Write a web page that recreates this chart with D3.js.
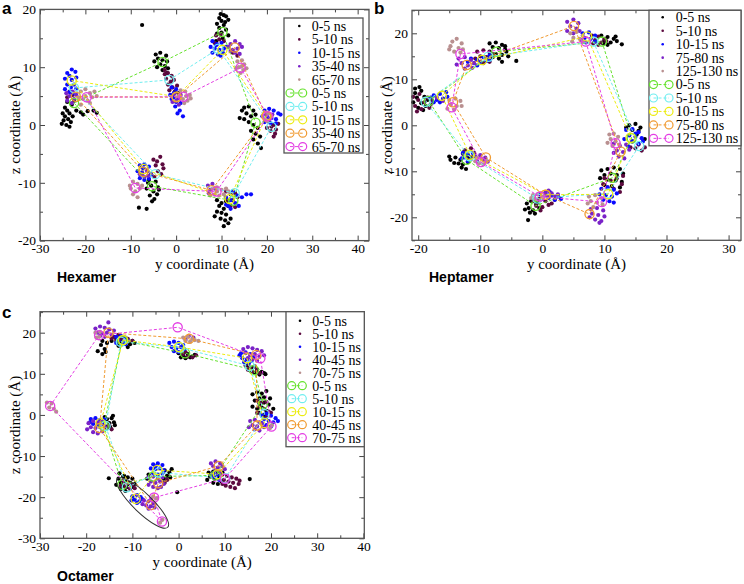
<!DOCTYPE html>
<html>
<head>
<meta charset="utf-8">
<script src="https://cdn.jsdelivr.net/npm/d3@7"></script>
<style>
  body { margin: 0; background: #fff; }
  svg text { font-family: "Liberation Serif", "Times New Roman", serif; }
  svg .tag { font-family: "Liberation Sans", Arial, sans-serif; font-weight: bold; }
</style>
</head>
<body>
<svg id="fig" width="744" height="584"></svg>
<script>
// series names (5 scatter sets + 5 average sets per panel)
const hexLabels = ['0-5 ns', '5-10 ns', '10-15 ns', '35-40 ns', '65-70 ns']
const hepLabels = ['0-5 ns', '5-10 ns', '10-15 ns', '75-80 ns', '125-130 ns']
const octLabels = ['0-5 ns', '5-10 ns', '10-15 ns', '40-45 ns', '70-75 ns']

const dotColors = ['#000000', '#5c0a3f', '#0a0aff', '#7a22c8', '#b99090']
const lineColors = ['#66e22e', '#70eef0', '#ecec10', '#f09a30', '#e43ee4']

// tick labels
const hexYTicks = [-30, -20, -10, 0, 10, 20, 30, 40]
const hexZTicks = [-20, -10, 0, 10, 20]
const hepYTicks = [-20, -10, 0, 10, 20, 30]
const hepZTicks = [-20, -10, 0, 10, 20]
const octYTicks = [-30, -20, -10, 0, 10, 20, 30, 40]
const octZTicks = [-30, -20, -10, 0, 10, 20]

// scatter points "y,z", one string per series
const hexDots = [
  // 0-5 ns
  '-24.5,3 -24,2.5 -25,2 -23.5,2 -24.5,1.5 -23.8,1 -24.8,0.8 -23.2,0.5 -24.2,0 -23.5,-0.3 -25.2,0.2 -22.8,1.5 -23,3.5 -22,2.5 -21,2.2 -20.5,1.8 -19.5,2.4 -18.2,2.5 -17.5,2.1 -24,4 -22.5,4.2 ' +
  '-4.5,12.2 -3.5,12.5 -2.2,12 -4,11.5 -3,11.2 -4.8,11 -2,11 -3.5,10.5 -2.5,10.2 -4.2,10 -1.8,9.8 -3,9.5 -2,9 ' +
  '-6,-9.5 -4.5,-9.8 -5.5,-10.5 -4,-10.8 -6.5,-11 -5,-11.5 -4.2,-12 -5.8,-12.2 -4.8,-12.8 -6.2,-10 -3.8,-11.2 -8.2,-14.3 -6.5,-14.5 -5.3,-13.2 ' +
  '10.5,19 11,18.8 9.5,18.5 10,18 11.5,18.2 9,17.5 10.5,17.3 9.5,16.8 11,16.5 10,16 9,15.8 11.5,15.5 10.3,15 8.8,14.5 10.8,17.8 9.8,19.2 ' +
  '15,3 16,3.2 17,2.5 15.5,2 16.5,1.5 15,1 17.5,1.8 16,0.5 17,0 18,-0.5 16.5,-1 17.5,-1.5 18.5,-2 17,-2.5 18,-3.2 14,1.2 18.7,-4 14.5,2.5 ' +
  '9,-13 10,-13.5 11,-13.2 9.5,-14 10.5,-14.5 11.5,-14 9,-15 10,-15.2 11,-15.5 9.8,-16.2 10.8,-16.5 11.5,-17 10.5,-17.5 8.5,-15.8 12,-16.2 -7.5,17.3',
  // 5-10 ns
  '-2.5,9.5 -1.8,9 -1,8.5 -2.2,8 -1.2,7.5 -0.5,7.8 -1.8,7 -0.8,6.5 0.2,6.8 -1.5,6 -0.3,5.8 0.5,5.5 -2.5,8.8 ' +
  '-23.5,5.8 -22.8,5.2 -24,4.8 ' +
  '-5,-6 -3.5,-5.5 -4.5,-7 -3,-6.8 -4,-8 -5.5,-8.5 -3.3,-8.5 -4.8,-9 -2.8,-7.5 -4.2,-6.3 ' +
  '8.8,15.5 9.5,14.8 8.5,14.2 9.8,15.6 10.5,14.5 12.5,12.5 13.5,12 ' +
  '20.5,0.5 21.5,0 22,-0.8 20.8,-1 21.8,-1.5 22.5,0.2 21,-0.3 20,-0.5 21.5,-2 ' +
  '11,-11.5 12,-12 13,-11.8 11.5,-13 12.5,-13 13.5,-12.5 12,-14 13,-14.2',
  // 10-15 ns
  '-23,9.6 -24,9 -22.2,9.2 -23.5,8.5 -24.5,8 -22,8.2 -23,7.8 -24,7 -22.5,7 -23.2,6.5 -24.5,6.2 -22,6.3 -23.5,5.7 -22.8,5.5 ' +
  '-1,6.5 0,6.2 -0.5,5.5 0.8,5 -1,4.5 0,4 1,3.8 -0.2,3.2 0.8,2.5 1.5,1.5 -0.5,4.8 0.3,2 -1.3,5.2 ' +
  '-8,-7 -7,-6.8 -6,-7.2 -8.5,-8 -7.5,-8.2 -6.3,-8 -5.5,-8.6 -8,-9.2 -7,-9.5 -6,-9.3 -7.3,-7.5 ' +
  '8,14.5 9,14 10,14.2 8.5,13.2 9.5,13 10.5,13.2 8,12.5 9.2,12.2 10.3,12.5 11,13.5 8.8,13.8 9.8,12 7.6,13.5 ' +
  '19.5,2.5 20.5,2.8 21.5,2.5 22.5,2 19,1.5 20,1.5 21,1.2 22,1 23,1.8 19.5,0.5 20.8,0.3 22,0.3 ' +
  '11,-12.5 12,-13 13,-13.5 12,-14.5 11.5,-14 13.5,-12.2 14.5,-12.5 15.5,-12 12.5,-11.5 13.8,-14 11,-13.8 16.5,-12',
  // 35-40 ns
  '-23.5,5 -22.5,4.5 -24,4.2 -23,3.8 -22,5.2 -24.2,5.5 -22.8,5.8 ' +
  '-0.5,5.3 0.5,4.6 0,4.2 1,5.2 -0.8,4 0.6,3.5 ' +
  '-7.5,-8.5 -6.5,-7.8 -7,-9 -8,-8.5 -6.2,-8.8 ' +
  '12,14 13,14.5 14,14 12.5,13 13.5,13.2 14.5,13.5 13,12.5 12,12.8 14,12.3 11.5,13.5 ' +
  '19.8,1.8 20.5,1 21.2,1.8 20.2,0.8 ' +
  '7,-10.5 8,-10.2 7.5,-11.2 8.5,-11 7.2,-11.8',
  // 65-70 ns
  '-21,5.8 -20,6.2 -19,5.5 -20.5,4.5 -19.5,4.2 -18.5,4.8 -21.5,4.8 -18,5.8 -17.5,5 -20,5 -19,3.8 -21,3.5 ' +
  '1,6 2,5.8 3,5.2 1.5,4.5 2.5,4.2 0.5,5 3.2,4.6 1.8,3.8 2.2,5 ' +
  '-9.5,-9.8 -8.5,-10.2 -10,-11 -9,-11.5 -8,-11 -9.5,-12 -8.5,-12.5 -10.2,-10.5 -7.5,-10.5 ' +
  '13.5,11 14.5,11.2 15,10.5 13.8,10 14.8,9.5 13.2,9.8 15.5,9.8 14.2,9 14.5,10.2 ' +
  '19.5,1.2 20.3,2 21,1.5 20,0.7 ' +
  '8,-11 9,-10.8 10,-11.2 11,-11 8.5,-12 9.5,-12.2 10.5,-12 11.5,-11.5 9,-11.5 7.5,-12.2'
]

// averaged subunit positions, in ring order
const hexMeans = [
  '10.2,16.1 -3,10.9 -22.5,3.8 -5.3,-10.6 12.6,-13.1 17.5,0.4',
  '9.3,13.2 -1.5,7.8 -22.5,6.4 -4.6,-8.5 12.9,-11.8 21,-0.3',
  '10.2,13 0.1,4.9 -23,7.7 -7.2,-7.6 11.8,-12.8 19.9,1.6',
  '12.9,13.4 0.1,4.8 -22.1,4.9 -7.2,-8.1 7.8,-11.3 19.9,1.5',
  '14.2,9.9 1.6,4.9 -19.7,4.8 -9,-10.9 8.9,-11.5 20.2,1.5'
]

const hepDots = [
  '-8.5,17.8 -7.5,18 -6.5,17.5 -8,17 -7,16.8 -6,16.5 -8.5,16 -7.5,15.5 -6.5,15.3 -5.8,16 -7,14.5 -8,14.8 -6,17.2 -5.5,15 -6.5,13.8 -4.2,14 ' +
  '-20.5,7 -19.5,7.5 -20.2,6 -19,6.2 -18.5,5.5 -20.8,5 -19.5,4.8 -18.8,4.2 -20,3.8 -19.2,3.3 -20.5,8 -19.8,8.3 ' +
  '-14.8,-7.5 -14,-7 -13.2,-7.5 -13.5,-8.3 -12.8,-8.5 -12,-8 -13,-9.2 -12.3,-9.5 -14.2,-8.2 -11.8,-7.2 -15,-6.8 -12.5,-5.5 ' +
  '-2.5,-17 -1.8,-16.5 -1,-17.2 -2.2,-18 -1.5,-18.5 -0.5,-18 -2.8,-18.3 -0.8,-16.8 -2,-19 -1.2,-19.2 -2.3,-20.6 ' +
  '9.5,19.5 10.5,19.2 11.5,18.8 10,18.5 11,18 12,18.3 10.5,17.5 12.8,17.6 9.8,17.8 11.8,19.3 ' +
  '14,0 15,0.3 15.8,-0.5 14.5,-1 15.5,-1.2 13.5,-0.5 16.5,-3 15.2,-2 ' +
  '9.5,-9.8 10.5,-9.5 11.5,-9.2 12.5,-9.5 10,-10.8 11,-10.5 12,-10.8 13,-10.5 9.3,-11.5 10.5,-11.8 11.8,-12 12.8,-12.3 10,-13 11.2,-13.2 12.5,-13.5',
  '-10.5,16 -9.5,16.3 -8.5,15.8 -10,15 -9,14.8 -8,15.5 -9.5,13.5 -8.5,13.8 -10.8,14.5 ' +
  '-20.8,6.2 -20,5.5 -19,5 -18,4.5 -20.5,4.2 -19.5,3.5 -18.5,6 -17.8,5.5 -19.8,6.8 -18.2,3.8 -20.2,3 ' +
  '-12.5,-5.5 -11.5,-5 -11,-6 -12,-6.5 -12.8,-6.2 -11.3,-6.8 ' +
  '-1.5,-16.5 -0.5,-16 0.5,-16.5 1.5,-17 -1,-17.5 0,-17.8 1,-17.3 2,-16.2 -0.3,-18.5 ' +
  '8,19.5 9,19.3 10,18.8 8.5,18.5 9.5,18 10.3,18.3 9,17.5 8.2,17.8 ' +
  '14.5,-3.5 15.5,-4.2 16.5,-4.8 15,-5 16,-5.5 14.2,-4.8 ' +
  '10,-11.5 11,-12 12,-11.5 12.8,-12.8 10.5,-13.5 11.5,-13.8 12.5,-14.5 13,-11 9.8,-12.8',
  '-11.5,14.5 -10.5,14.2 -9.5,14.8 -8.5,15.2 -11,13.5 -10,13.8 -9,14 -10.5,13 -12,13.8 -8.5,14.2 ' +
  '-17.5,6.5 -16.5,6.8 -15.5,7.2 -17,5.5 -16,5.8 -15.3,6.2 -17.5,5 -16.5,5 -18,6 ' +
  '-12.8,-6 -12,-6.3 -11.2,-6 -12.5,-7 -11.5,-7.3 -12,-7.8 -13,-7.2 ' +
  '-0.5,-15 0.5,-14.8 1.5,-15.2 2.5,-15.5 0,-16 1,-15.8 2,-16.2 3,-16 1.2,-14.5 ' +
  '6.5,20 7.5,20.2 8.5,19.5 6.8,19 7.8,18.8 8.5,18.2 7,18 6.3,18.5 ' +
  '13.5,-1 14.5,-0.8 15.5,-1.5 14,-2.2 15,-2.5 16,-2.8 13.2,-3 14.5,-3.5 15.5,-4 16.2,-3.5 13.8,-4.5 15,-1.8 ' +
  '9.5,-13.8 10.5,-13.5 11.5,-14 9.2,-15 10.2,-15.2 11.2,-15.5 12,-14.8 9.8,-16.2 10.8,-16.5 11.5,-16.8',
  '-13.5,14.5 -12.5,14.8 -11.5,14.2 -13,13.5 -12,13 -11,13.5 -12.5,12.3 -11.3,12.5 -13.8,13.2 ' +
  '-17,6 -16,5.3 ' +
  '-10.8,-6.8 -10,-6.5 -9.2,-7 -10.5,-7.8 -9.5,-7.5 -8.8,-7.9 ' +
  '0.5,-14.6 1.5,-14.8 2,-15.5 0.8,-15.5 2.5,-15 1,-14.2 ' +
  '4,22.5 5,23 5.8,22.2 4.5,21.5 5.5,21 4,20.5 6,20.5 5,20 ' +
  '11.5,-4 12.5,-4.5 13.5,-4.2 12,-5.5 13,-5.8 14,-5.3 12.3,-6.8 13.2,-7.2 11.5,-6 ' +
  '7.8,-18.2 8.8,-18 9.8,-18.5 8,-19.2 9,-19.5 10,-19.8 8.5,-20.5 9.5,-20.8 7.6,-20 9.2,-21.2',
  '-14.5,18.2 -13.8,18.8 -13,17.8 -14.8,17.2 -13.5,16.8 -12.8,16.5 -14.2,16 -13.2,15.8 -15,16.5 ' +
  '-15,5.5 -14,5.8 -13.2,5.3 -14.8,4.5 -13.8,4.2 -15.3,3.6 -14.2,3.4 -13,4.2 ' +
  '-10.5,-7 -9.8,-7.2 -9,-7.8 -10.2,-8.3 -9.5,-8.5 -10.8,-7.8 ' +
  '-1.5,-15.2 -0.8,-15 0,-15.5 -1.2,-16 -0.3,-16.2 -1.8,-15.8 ' +
  '4.5,20 5.5,20.3 6.5,19.5 5,19 6,18.8 4.8,18.2 6.5,18.2 ' +
  '10.8,-2 11.5,-1.8 12.2,-2.5 11,-3 11.8,-3.5 10.5,-3.8 12.4,-4.2 11.3,-4.5 ' +
  '7.5,-15.5 8.5,-15.2 9.5,-15.8 7.8,-16.5 8.8,-16.8 9.7,-17.2 8.2,-17.8 7.3,-17'
]

const hepMeans = [
  '9.6,18.2 14.4,-2.8 11.3,-11.4 -1.1,-17.5 -12.2,-7.5 -18.3,5.3 -7.4,16',
  '8.2,18.2 15.6,-4.5 10.6,-14.8 -0.8,-15.9 -11.8,-6.7 -18.8,5.1 -8.7,14.9',
  '7.2,19.3 14.2,-2.7 10.6,-15 0.5,-15.1 -11.7,-6.4 -16.2,6.4 -9.7,14.2',
  '5.1,21.6 12.6,-5.7 7.6,-19.3 0.5,-15.1 -9.1,-7 -14.4,5 -12.2,13.1',
  '7,18.2 11.8,-3.9 9.6,-16.7 -0.4,-15.5 -9.9,-8 -14.6,3.9 -13.2,15.5'
]

const octDots = [
  '-16.5,18 -15.5,17.5 -16.8,17 -16,16 -15.8,15.3 -16.5,14.8 -14.5,18 -13.5,18.5 -12.5,17.8 -11.5,17.5 -10.5,17.2 -9.5,17.5 -13,16.8 -11,16.5 -10,18 -17.5,15.5 ' +
  '0,15 1,14.5 2,14.8 3,14.2 0.5,14 1.5,13.8 2.5,14 3.5,14.6 ' +
  '15,12 16,11.5 17,11 18,10.5 16.5,10.2 17.5,9.8 18.5,10.2 15.5,10.8 18.8,9.9 ' +
  '16,5 17,5.5 18,5.2 19,5.8 17.5,4 18.5,4.3 16.5,3.5 17.5,2.8 18.5,3 19.5,2.5 16,2 17,1.5 18,1.8 19,1 17.5,0.5 18.5,0 19.8,4 20.5,1.5 ' +
  '6.5,-14 7.5,-13.8 8.5,-14.2 9.5,-14 6.8,-15 7.8,-15.5 8.8,-15.2 9.3,-16.2 7.5,-16.5 8.5,-16.8 6.2,-15.8 15.4,-15.6 ' +
  '-3,-13.5 -2,-14 -1.5,-13.2 -2.5,-14.8 -1.8,-15.2 -3.2,-15.5 -6.5,-14.5 -6.8,-15.5 -0.3,-18.8 ' +
  '-13,-15.5 -12,-15 -11,-15.2 -10,-15.5 -12.5,-16.5 -11.5,-16.2 -10.5,-16.5 -13.5,-17 -12,-17.2 -11,-17.5 -12.5,-18 -11.5,-18.5 -10,-17.5 -9.5,-16.8 -12.8,-14.2 -11.8,-14.8 -15.1,-15.4 ' +
  '-15.5,-1 -14.5,-0.8 -15,-2 -14,-1.8 -15.8,-2.8 -14.8,-3 -13.8,-2.5 -16,-0.5 -14.2,-0.2',
  '-14,19 -13,19.5 -12,19 -11,18.5 -10,18 -13.5,18 -12.5,18.5 -14.5,18.6 ' +
  '1,14.8 2,14.2 3,14 3.8,14.5 1.5,15.3 ' +
  '14.5,12 15.5,11.5 16.5,11.8 15,11 16,10.5 17,11 17.5,10.2 ' +
  '17,3.5 18,3 19,3.2 17.5,2 18.5,1.5 19.5,0.8 17,0.5 18,-0.2 19,-0.5 20,0.5 ' +
  '9.5,-14.5 10.5,-14.8 11.5,-15.2 12.5,-15.5 9.8,-15.8 10.8,-16.2 11.8,-16.5 13,-16.8 10.2,-17.2 11.2,-17.5 12.2,-17.8 13.2,-16 9.5,-16.8 ' +
  '-3,-16.5 -2.5,-15.8 ' +
  '-12,-16 -11,-16.5 -10,-17 -11.5,-17.5 -10.5,-18 -9.5,-17.8 -12.5,-17.2 ' +
  '-15.5,-3.2 -14.5,-3.5 -15,-2.5',
  '-13.5,19 -12.5,19.2 -11.5,18.8 -13,18 -12,17.8 -11,18 -12.5,17 -13.5,17.5 -11.5,17.2 ' +
  '-2,17.5 -1,17.8 0,17.5 1,17 -1.5,16.5 -0.5,16.2 0.5,16.5 -1,15.5 0,15.3 1.2,16 ' +
  '13.5,15 14.5,15.2 15.5,14.8 13.8,13.8 14.8,13.5 15.8,13.2 14.2,12.8 15.2,12.5 16.2,14 13.2,14.5 ' +
  '18,0 19,0.3 20,-0.2 21,-0.8 18.5,-1 19.5,-1.5 20.5,-1.8 21.5,-1.5 18,-2 19,-2.5 20,-2.8 ' +
  '7.5,-14.2 8.5,-14.5 7.8,-15.2 8.8,-15.8 7.2,-14.8 ' +
  '-5.5,-12 -4.5,-11.8 -3.5,-12.2 -6,-13 -5,-13.2 -4,-13 -3.2,-13.5 -5.5,-14.2 -4.5,-14.5 -3.5,-14.2 -5,-12.5 ' +
  '-10,-19.8 -9,-19.5 -8.2,-20 -9.5,-20.6 -8.5,-21 -10.2,-20.8 -7.8,-20.5 -9,-21.4 ' +
  '-19,-1 -18,-0.8 -17,-1.2 -18.5,-2.2 -17.5,-2.5 -16.5,-2.2 -19.2,-1.8 -16,-1',
  '-18,21 -17,21.5 -16,21.2 -15,20.8 -17.5,20 -16.5,19.8 -15.5,20 -14.5,19.5 -16,19 -17,19.2 -14,20.5 -15.2,22.5 ' +
  '2.2,19.2 3.2,18.8 1.5,18.3 ' +
  '14,16 15,16.5 16,16.2 17,15.8 18,15.5 14.5,15 15.5,14.5 16.5,14.8 17.5,14.2 18.5,14.5 15,13.8 16,13.5 17,13.2 ' +
  '15.5,-1.5 16.5,-1.2 17.5,-1.8 16,-2.5 17,-2.8 18,-2.2 16.5,-3.5 17.5,-3.8 18.5,-3 15.2,-3 ' +
  '7,-11.8 8,-11.3 9,-11.8 7.5,-12.5 8.5,-12.8 9.5,-12.5 8,-13.5 9,-13.8 10,-13.2 ' +
  '-6.5,-15.2 -5.5,-15 -4.5,-15.5 -3.5,-15.2 -6,-16.2 -5,-16.5 -4,-16.2 -3.2,-16.8 -5.5,-17.5 -4.5,-17.8 -3.8,-17.5 -6.5,-17 ' +
  '-7.5,-20.8 -6.5,-21 -5.5,-21.5 -7,-22 -6,-22.2 -5.2,-22.5 -6.5,-22.8 -7.8,-21.7 -6,-20.5 ' +
  '-19.5,-2 -18.5,-1.5 -17.5,-1.8 -16.5,-1.5 -19,-3 -18,-3.2 -17,-3 -16,-2.8 -18.5,-4.2 -17.5,-4.5 -16.5,-4 -19.8,-3.5',
  '-18,20 -17.2,19 -17.8,18.8 -17,20.2 ' +
  '1,18.8 2,19 3,18.5 1.5,18 2.5,17.8 3.5,18.2 4.3,18 ' +
  '20.2,-2.5 19.8,-3.2 ' +
  '-5.5,-19.8 -4.8,-20.3 ' +
  '-28.5,3 -27.5,2.8 -27,1.5 -28,1.8 -26.5,0.8 ' +
  '-3.5,-25.5 -4,-26.2'
]

const octMeans = [
  '-12.2,18.1 1.4,15 16.3,10.9 18.3,2.7 8,-14.7 -5.5,-15 -12.2,-17 -16.2,-2.7',
  '-12.5,17.8 0.3,16.4 15.4,11.9 18.6,0.2 10.1,-15.4 -4.3,-14 -11.2,-17.6 -15.8,-2.7',
  '-12,18.2 0.1,16.5 14.8,13.8 18.6,-2 8.5,-14.4 -4.6,-13.4 -9.3,-20.4 -16.9,-2',
  '-15.2,20 2.3,18.5 16.8,14.6 17,-2.6 8.7,-12.4 -4.4,-16.6 -6,-21.9 -17.1,-3.2',
  '-17.2,19.4 -0.2,21.3 17.7,13.8 20.1,-2.8 10,-15.5 -5.3,-20.1 -3.6,-25.9 -27.8,2.2'
]

const pts = s => s.trim().split(/\s+/).map(p => p.split(',').map(Number))

const svg = d3.select('#fig')
const serif = '"Liberation Serif", "Times New Roman", serif'

const panels = [
  { tag: 'a', name: 'Hexamer', labels: hexLabels, dots: hexDots, means: hexMeans, yTicks: hexYTicks, zTicks: hexZTicks,
    x0: 40, x1: 369, y0: 9.4, y1: 240.6, yd: [-30, 42.5], zd: [-20, 20],
    tagX: 2, tagY: 14, nameX: 57, nameY: 282,
    leg: { x: 284, y: 18, w: 79, h: 135, row0: 26, step: 13.4, c1: 290, c2: 302.7, dot: 299.3, text: 311.7 } },
  { tag: 'b', name: 'Heptamer', labels: hepLabels, dots: hepDots, means: hepMeans, yTicks: hepYTicks, zTicks: hepZTicks,
    x0: 412, x1: 741, y0: 10.3, y1: 240.3, yd: [-21, 32], zd: [-25, 25],
    tagX: 374, tagY: 14, nameX: 429, nameY: 282,
    leg: { x: 649, y: 10.3, w: 92, h: 135.5, row0: 17.3, step: 13.45, c1: 653.5, c2: 669, dot: 662.7, text: 675.7 } },
  { tag: 'c', name: 'Octamer', labels: octLabels, dots: octDots, means: octMeans, yTicks: octYTicks, zTicks: octZTicks,
    x0: 40, x1: 364.3, y0: 311.7, y1: 538.3, yd: [-30, 40.2], zd: [-30, 25.1],
    tagX: 2, tagY: 318, nameX: 57, nameY: 581,
    leg: { x: 286, y: 311.7, w: 78.3, h: 135, row0: 320.7, step: 13, c1: 291.7, c2: 302.3, dot: 300, text: 312.3 } }
]

function styleAxis(g) {
  g.select('.domain').remove()
  g.selectAll('line').attr('stroke', '#444')
  g.attr('font-family', serif).attr('font-size', 13.5)
  g.selectAll('text').attr('fill', '#000')
}

panels.forEach(p => {
  const x = d3.scaleLinear().domain(p.yd).range([p.x0, p.x1])
  const z = d3.scaleLinear().domain(p.zd).range([p.y1, p.y0])
  const minor = (ticks, dom) => d3.range(Math.ceil(dom[0] / 5) * 5, dom[1] + 0.01, 5).filter(v => !ticks.includes(v))
  const g = svg.append('g')

  // 坐标轴 (ticks on all four sides, pointing inward)
  g.append('g').attr('transform', 'translate(0,' + p.y1 + ')')
    .call(d3.axisBottom(x).tickValues(p.yTicks).tickSize(-5).tickPadding(3).tickFormat(d => d)).call(styleAxis)
  g.append('g').attr('transform', 'translate(0,' + p.y1 + ')')
    .call(d3.axisBottom(x).tickValues(minor(p.yTicks, p.yd)).tickSize(-3).tickFormat('')).call(styleAxis)
  g.append('g').attr('transform', 'translate(0,' + p.y0 + ')')
    .call(d3.axisTop(x).tickValues(p.yTicks).tickSize(-5).tickFormat('')).call(styleAxis)
  g.append('g').attr('transform', 'translate(0,' + p.y0 + ')')
    .call(d3.axisTop(x).tickValues(minor(p.yTicks, p.yd)).tickSize(-3).tickFormat('')).call(styleAxis)
  g.append('g').attr('transform', 'translate(' + p.x0 + ',0)')
    .call(d3.axisLeft(z).tickValues(p.zTicks).tickSize(-5).tickPadding(4).tickFormat(d => d)).call(styleAxis)
  g.append('g').attr('transform', 'translate(' + p.x0 + ',0)')
    .call(d3.axisLeft(z).tickValues(minor(p.zTicks, p.zd)).tickSize(-3).tickFormat('')).call(styleAxis)
  g.append('g').attr('transform', 'translate(' + p.x1 + ',0)')
    .call(d3.axisRight(z).tickValues(p.zTicks).tickSize(-5).tickFormat('')).call(styleAxis)
  g.append('g').attr('transform', 'translate(' + p.x1 + ',0)')
    .call(d3.axisRight(z).tickValues(minor(p.zTicks, p.zd)).tickSize(-3).tickFormat('')).call(styleAxis)

  // scatter sets
  p.dots.forEach((s, i) => {
    g.append('g').selectAll('circle')
      .data(pts(s))
      .enter().append('circle')
      .attr('cx', d => x(d[0]))
      .attr('cy', d => z(d[1]))
      .attr('r', 2.1)
      .attr('fill', dotColors[i])
  })

  // averaged rings
  const line = d3.line().x(d => x(d[0])).y(d => z(d[1]))
  p.means.forEach((s, i) => {
    const m = pts(s)
    g.append('path')
      .attr('d', line(m.concat([m[0]])))
      .attr('fill', 'none')
      .attr('stroke', lineColors[i])
      .attr('stroke-width', 1)
      .attr('stroke-dasharray', '3,2')
    g.append('g').selectAll('circle')
      .data(m)
      .enter().append('circle')
      .attr('cx', d => x(d[0]))
      .attr('cy', d => z(d[1]))
      .attr('r', 4.6)
      .attr('fill', 'none')
      .attr('stroke', lineColors[i])
      .attr('stroke-width', 1.3)
  })

  if (p.tag === 'c') {
    g.append('ellipse')
      .attr('transform', 'translate(' + x(-7.8) + ',' + z(-21.4) + ') rotate(44)')
      .attr('rx', 35).attr('ry', 9.5)
      .attr('fill', 'none').attr('stroke', '#333').attr('stroke-width', 1)
  }

  // frame
  g.append('rect')
    .attr('x', p.x0).attr('y', p.y0)
    .attr('width', p.x1 - p.x0).attr('height', p.y1 - p.y0)
    .attr('fill', 'none').attr('stroke', '#555').attr('stroke-width', 1.3)

  // legend
  const L = p.leg
  g.append('rect')
    .attr('x', L.x).attr('y', L.y).attr('width', L.w).attr('height', L.h)
    .attr('fill', '#fff').attr('stroke', '#555').attr('stroke-width', 1.3)
  const rows = p.labels.map((t, i) => ({ t: t, i: i, kind: 'dot' }))
    .concat(p.labels.map((t, i) => ({ t: t, i: i, kind: 'ring' })))
  rows.forEach((r, k) => {
    const yy = L.row0 + k * L.step
    if (r.kind === 'dot') {
      g.append('circle').attr('cx', L.dot).attr('cy', yy).attr('r', 1.3).attr('fill', dotColors[r.i])
    } else {
      g.append('line').attr('x1', L.c1).attr('x2', L.c2).attr('y1', yy).attr('y2', yy)
        .attr('stroke', lineColors[r.i]).attr('stroke-width', 1).attr('stroke-dasharray', '3,2')
      ;[L.c1, L.c2].forEach(cx => {
        g.append('circle').attr('cx', cx).attr('cy', yy).attr('r', 4)
          .attr('fill', 'none').attr('stroke', lineColors[r.i]).attr('stroke-width', 1.2)
      })
    }
    g.append('text').attr('x', L.text).attr('y', yy).attr('dy', '0.35em')
      .attr('font-family', serif).attr('font-size', 14).text(r.t)
  })

  // axis titles
  g.append('text')
    .attr('x', (p.x0 + p.x1) / 2).attr('y', p.y1 + 28.5)
    .attr('text-anchor', 'middle').attr('font-size', 15)
    .text('y coordinate (Å)')
  g.append('text')
    .attr('transform', 'translate(' + (p.x0 - 20) + ',' + ((p.y0 + p.y1) / 2) + ') rotate(-90)')
    .attr('text-anchor', 'middle').attr('font-size', 15)
    .text('z coordinate (Å)')

  g.append('text').attr('class', 'tag').attr('x', p.tagX).attr('y', p.tagY)
    .attr('font-size', 17).text(p.tag)
  g.append('text').attr('class', 'tag').attr('x', p.nameX).attr('y', p.nameY)
    .attr('font-size', 14).text(p.name)
})
</script>
</body>
</html>
